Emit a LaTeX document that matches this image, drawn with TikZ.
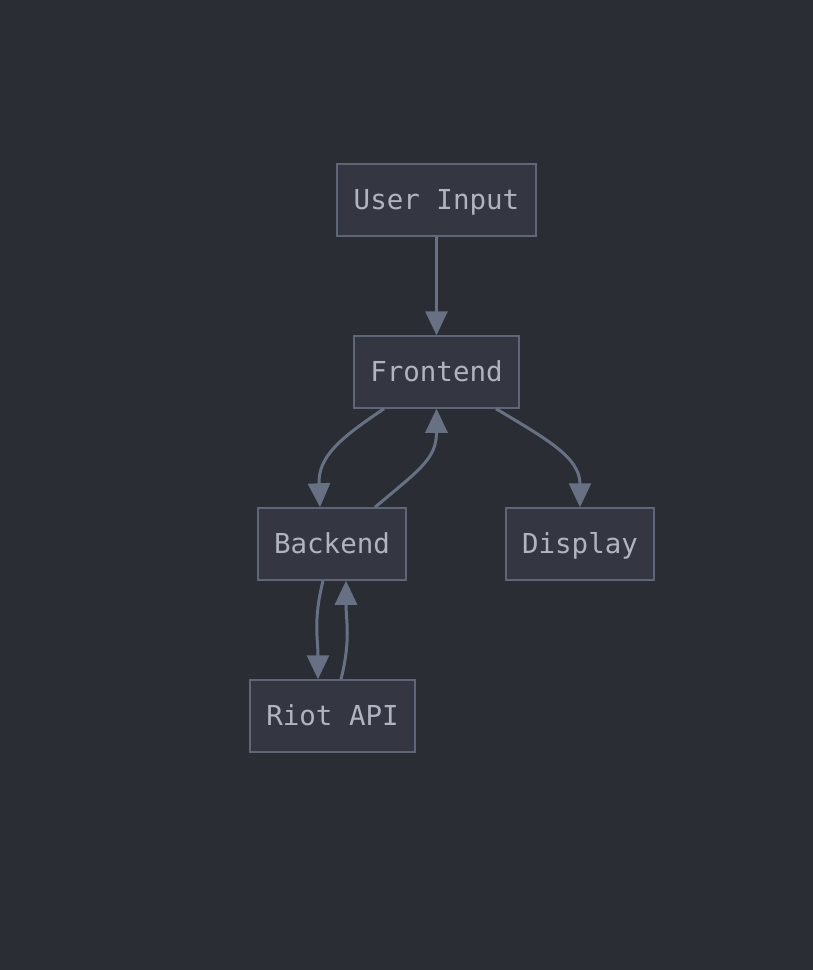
\documentclass[tikz,border=0pt]{standalone}
\usepackage{fontspec}
\setmonofont{DejaVu Sans Mono}
\usetikzlibrary{arrows.meta}
\definecolor{bgc}{HTML}{2A2D34}
\definecolor{boxfill}{HTML}{343741}
\definecolor{boxline}{HTML}{5F6678}
\definecolor{txt}{HTML}{B0B4C0}
\definecolor{edgec}{HTML}{687084}
\tikzset{
  box/.style={draw=boxline, fill=boxfill, line width=1.5pt, minimum height=72pt, inner sep=0pt,
    text height=24pt, text depth=6pt,
    text=txt, font=\fontsize{27.5pt}{30pt}\selectfont\ttfamily},
  edge/.style={draw=edgec, line width=3pt, -{Triangle[length=24pt,width=22pt]}}
}
\begin{document}
\begin{tikzpicture}[x=1pt,y=-1pt]
\useasboundingbox (0,0) rectangle (812,970);
\fill[bgc] (-10,-10) rectangle (822,980);
\node[box, minimum width=199pt] (ui) at (436.5,200) {User Input};
\node[box, minimum width=165pt] (fe) at (436.5,372) {Frontend};
\node[box, minimum width=148pt] (be) at (332,544) {Backend};
\node[box, minimum width=148pt] (di) at (580,544) {Display};
\node[box, minimum width=165pt] (ra) at (332.5,716) {Riot API};
\draw[edge] (ui.south) -- (fe.north);
\draw[edge] ([xshift=-52.5pt]fe.south) .. controls +(-45,30) and +(-2,-50) .. ([xshift=-12pt]be.north);
\draw[edge] ([xshift=43pt]be.north) .. controls +(45,-38) and +(0,50) .. (fe.south);
\draw[edge] ([xshift=59.5pt]fe.south) .. controls +(50,30) and +(0,-50) .. (di.north);
\draw[edge] ([xshift=-9pt]be.south) .. controls +(-10,40) and +(0,-40) .. ([xshift=-14.5pt]ra.north);
\draw[edge] ([xshift=8.5pt]ra.north) .. controls +(10,-40) and +(0,40) .. ([xshift=14pt]be.south);
\end{tikzpicture}
\end{document}
